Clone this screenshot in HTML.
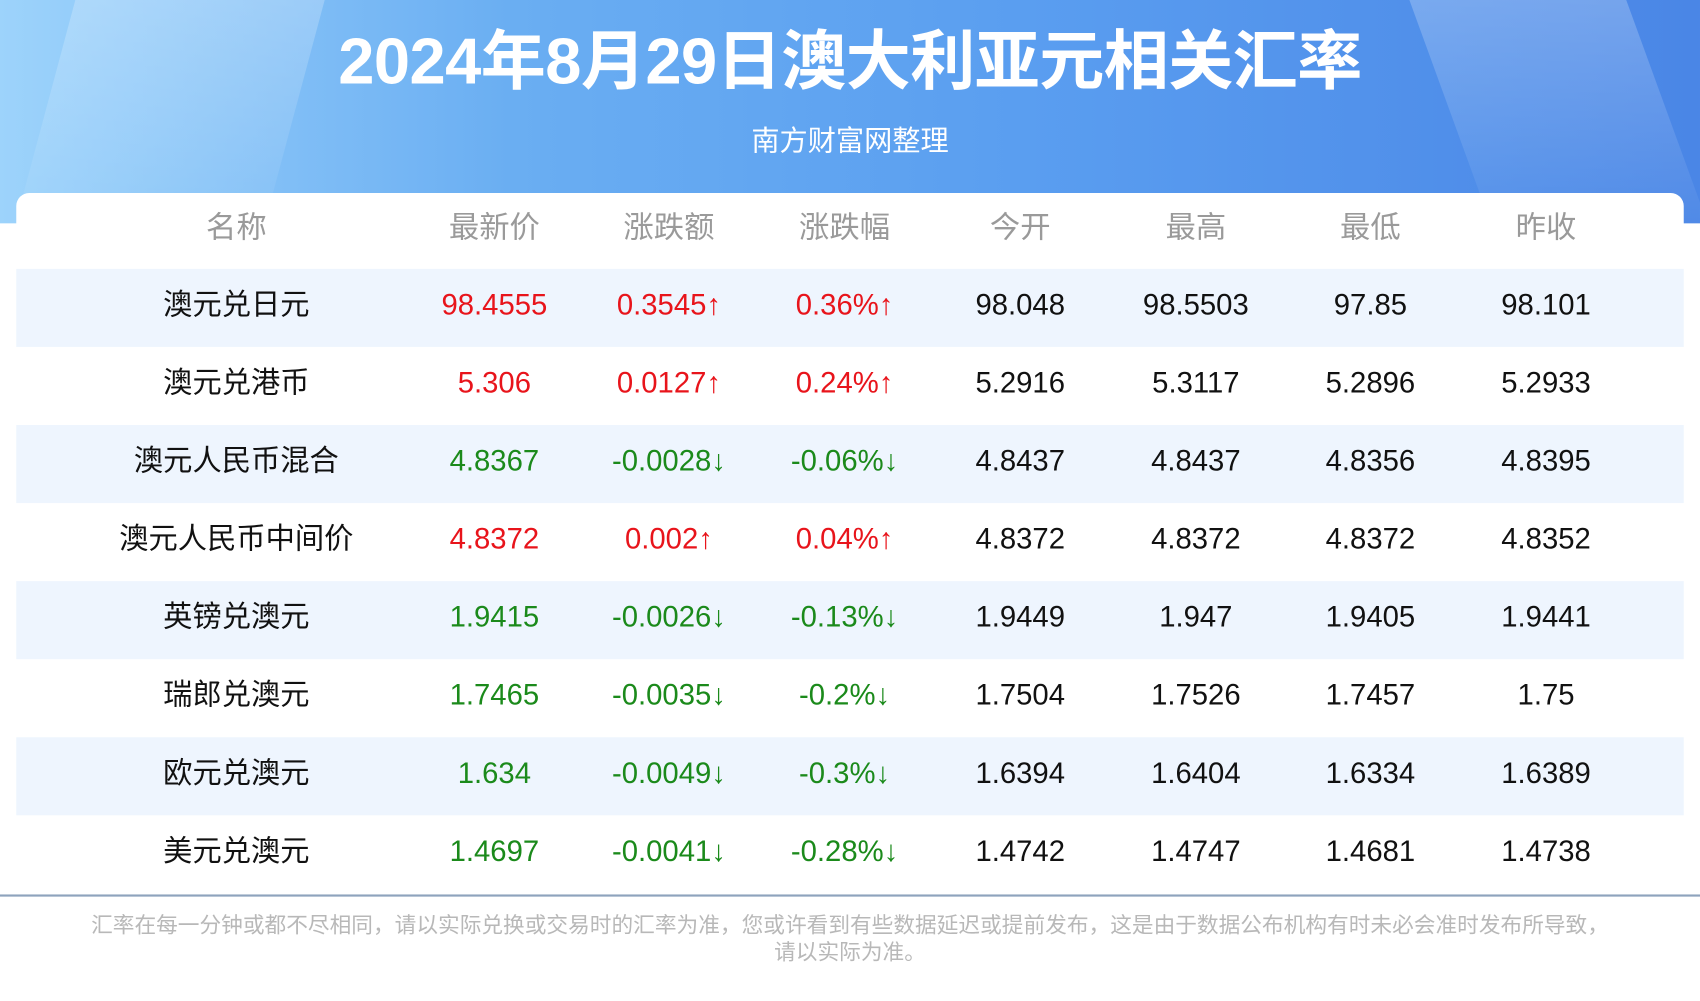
<!DOCTYPE html>
<html><head><meta charset="utf-8"><style>
html,body{margin:0;padding:0;width:1700px;height:1000px;overflow:hidden;background:#fff}
#wrap{position:absolute;left:0;top:0;width:1568px;height:923px;transform-origin:0 0;transform:scale(1.08418,1.08418);font-family:"Liberation Sans","Noto Sans CJK SC",sans-serif;background:#fff}
.hdr{position:absolute;left:0;top:0;width:1568px;height:206px;background:linear-gradient(90deg,#9dd3fb 0%,#6aaef2 30%,#5a9ef0 60%,#4a86e6 100%);overflow:hidden}
.hdr .s1{position:absolute;left:40px;top:-20px;width:230px;height:260px;background:linear-gradient(180deg,rgba(255,255,255,.25),rgba(255,255,255,0));transform:skewX(-15deg)}
.hdr .s2{position:absolute;left:1340px;top:-20px;width:200px;height:260px;background:linear-gradient(180deg,rgba(255,255,255,.25),rgba(255,255,255,0));transform:skewX(20deg)}
.title{position:absolute;left:0;width:1568px;top:22px;text-align:center;color:#fff;font-size:60px;font-weight:bold;line-height:70px;letter-spacing:-0.5px}
.sub{position:absolute;left:0;width:1568px;top:112px;text-align:center;color:#fff;font-size:26px;line-height:36px}
.card{position:absolute;left:15px;top:178px;width:1538px;height:650px;background:#fff;border-radius:12px 12px 0 0}
.row{position:absolute;left:15px;width:1538px;height:72px}
.row.b{background:#eef5fe}
.c{position:absolute;top:0;height:72px;line-height:66px;width:200px;text-align:center;font-size:27px;color:#111}
.h .c{color:#9a9a9a;font-size:28px;height:64px;line-height:64px}
.r{color:#e8141b!important}.g{color:#1b8a1b!important}
.line{position:absolute;left:0;top:825px;width:1568px;height:2px;background:#8ea3bd}
.foot{position:absolute;left:70px;width:1428px;top:842px;text-align:center;color:#b8b8b8;font-size:20px;line-height:25px}
</style></head><body><div id="wrap">
<div class="hdr"><div class="s1"></div><div class="s2"></div></div>
<div class="title">2024年8月29日澳大利亚元相关汇率</div>
<div class="sub">南方财富网整理</div>
<div class="card"></div>
<div class="row h" style="top:178px"><div class="c" style="left:103px">名称</div><div class="c" style="left:341px">最新价</div><div class="c" style="left:502px">涨跌额</div><div class="c" style="left:664px">涨跌幅</div><div class="c" style="left:826px">今开</div><div class="c" style="left:988px">最高</div><div class="c" style="left:1149px">最低</div><div class="c" style="left:1311px">昨收</div></div>

<div class="row b" style="top:248px"><div class="c" style="left:103px">澳元兑日元</div><div class="c r" style="left:341px">98.4555</div><div class="c r" style="left:502px">0.3545↑</div><div class="c r" style="left:664px">0.36%↑</div><div class="c" style="left:826px">98.048</div><div class="c" style="left:988px">98.5503</div><div class="c" style="left:1149px">97.85</div><div class="c" style="left:1311px">98.101</div></div>
<div class="row" style="top:320px"><div class="c" style="left:103px">澳元兑港币</div><div class="c r" style="left:341px">5.306</div><div class="c r" style="left:502px">0.0127↑</div><div class="c r" style="left:664px">0.24%↑</div><div class="c" style="left:826px">5.2916</div><div class="c" style="left:988px">5.3117</div><div class="c" style="left:1149px">5.2896</div><div class="c" style="left:1311px">5.2933</div></div>
<div class="row b" style="top:392px"><div class="c" style="left:103px">澳元人民币混合</div><div class="c g" style="left:341px">4.8367</div><div class="c g" style="left:502px">-0.0028↓</div><div class="c g" style="left:664px">-0.06%↓</div><div class="c" style="left:826px">4.8437</div><div class="c" style="left:988px">4.8437</div><div class="c" style="left:1149px">4.8356</div><div class="c" style="left:1311px">4.8395</div></div>
<div class="row" style="top:464px"><div class="c" style="left:83px;width:240px">澳元人民币中间价</div><div class="c r" style="left:341px">4.8372</div><div class="c r" style="left:502px">0.002↑</div><div class="c r" style="left:664px">0.04%↑</div><div class="c" style="left:826px">4.8372</div><div class="c" style="left:988px">4.8372</div><div class="c" style="left:1149px">4.8372</div><div class="c" style="left:1311px">4.8352</div></div>
<div class="row b" style="top:536px"><div class="c" style="left:103px">英镑兑澳元</div><div class="c g" style="left:341px">1.9415</div><div class="c g" style="left:502px">-0.0026↓</div><div class="c g" style="left:664px">-0.13%↓</div><div class="c" style="left:826px">1.9449</div><div class="c" style="left:988px">1.947</div><div class="c" style="left:1149px">1.9405</div><div class="c" style="left:1311px">1.9441</div></div>
<div class="row" style="top:608px"><div class="c" style="left:103px">瑞郎兑澳元</div><div class="c g" style="left:341px">1.7465</div><div class="c g" style="left:502px">-0.0035↓</div><div class="c g" style="left:664px">-0.2%↓</div><div class="c" style="left:826px">1.7504</div><div class="c" style="left:988px">1.7526</div><div class="c" style="left:1149px">1.7457</div><div class="c" style="left:1311px">1.75</div></div>
<div class="row b" style="top:680px"><div class="c" style="left:103px">欧元兑澳元</div><div class="c g" style="left:341px">1.634</div><div class="c g" style="left:502px">-0.0049↓</div><div class="c g" style="left:664px">-0.3%↓</div><div class="c" style="left:826px">1.6394</div><div class="c" style="left:988px">1.6404</div><div class="c" style="left:1149px">1.6334</div><div class="c" style="left:1311px">1.6389</div></div>
<div class="row" style="top:752px"><div class="c" style="left:103px">美元兑澳元</div><div class="c g" style="left:341px">1.4697</div><div class="c g" style="left:502px">-0.0041↓</div><div class="c g" style="left:664px">-0.28%↓</div><div class="c" style="left:826px">1.4742</div><div class="c" style="left:988px">1.4747</div><div class="c" style="left:1149px">1.4681</div><div class="c" style="left:1311px">1.4738</div></div>
<div class="line"></div>
<div class="foot">汇率在每一分钟或都不尽相同，请以实际兑换或交易时的汇率为准，您或许看到有些数据延迟或提前发布，这是由于数据公布机构有时未必会准时发布所导致，<br>请以实际为准。</div>
</div></body></html>
